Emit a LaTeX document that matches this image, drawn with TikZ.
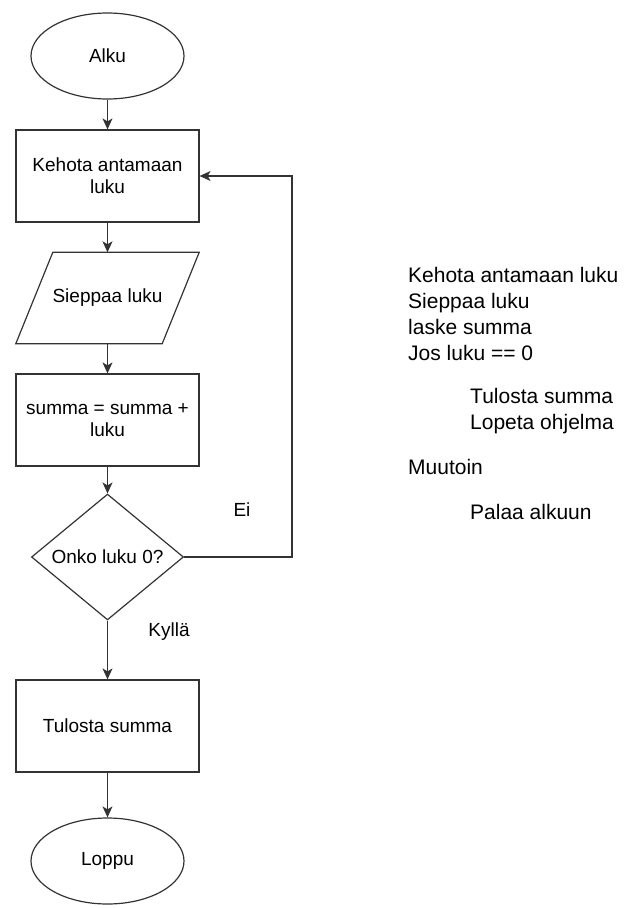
\documentclass[tikz,border=0pt]{standalone}
\usepackage{fontspec}
\setmainfont{Liberation Sans}
\usetikzlibrary{shapes.geometric,arrows.meta,calc}

\begin{document}
\begin{tikzpicture}[x=1pt,y=-1pt,
    every node/.style={font=\fontsize{19}{22}\selectfont},
    outline/.style={draw=black!80, line width=1.2pt},
    terminal/.style={outline, ellipse, minimum width=153pt, minimum height=86pt, inner sep=0pt},
    process/.style={outline, rectangle, minimum width=183pt, minimum height=92pt, align=center},
    io/.style={rectangle, minimum width=183pt, minimum height=91pt},
    decision/.style={outline, diamond, minimum width=152pt, minimum height=119pt, inner sep=0pt},
    flow/.style={outline, -{Stealth[length=11pt,width=10pt,inset=3pt]}},
    note/.style={anchor=base west, inner sep=0pt, font=\fontsize{21}{26}\selectfont}]
         \useasboundingbox (0,0) rectangle (627,908);

         % flowchart
         \node[terminal] (alku) at (107.5,56) {Alku};
         \node[process] (kehota) at (107.5,176) {Kehota antamaan\\luku};
         \node[io] (sieppaa) at (107.5,298) {Sieppaa luku};
         \draw[outline] ($(sieppaa.north west)+(37,0)$) -- (sieppaa.north east)
            -- ($(sieppaa.south east)+(-37,0)$) -- (sieppaa.south west) -- cycle;
         \node[process] (summa) at (107.5,420) {summa = summa +\\luku};
         \node[decision] (onko) at (107.5,557) {Onko luku 0?};
         \node[process] (tulosta) at (107.5,726) {Tulosta summa};
         \node[terminal] (loppu) at (107.5,861) {Loppu};

         \node (ei) at (242,510) {Ei};
         \node (kylla) at (169,632) {Kyllä};
         \coordinate (paluu) at (292,176);

         \draw[flow] (alku) -- (kehota);
         \draw[flow] (kehota) -- (sieppaa);
         \draw[flow] (sieppaa) -- (summa);
         \draw[flow] (summa) -- (onko);
         \draw[flow] (onko) -- (tulosta);
         \draw[flow] (tulosta) -- (loppu);
         \draw[flow] (onko.east) -| (paluu) -- (kehota.east);

         % pseudocode
         \node[note] (p1) at (408,282.5) {Kehota antamaan luku};
         \node[note] (p2) at (408,308.5) {Sieppaa luku};
         \node[note] (p3) at (408,334.5) {laske summa};
         \node[note] (p4) at (408,360.5) {Jos luku == 0};
         \node[note] (p5) at (470,403.5) {Tulosta summa};
         \node[note] (p6) at (470,429.5) {Lopeta ohjelma};
         \node[note] (p7) at (408,474.5) {Muutoin};
         \node[note] (p8) at (470,519.5) {Palaa alkuun};
      \end{tikzpicture}
\end{document}
